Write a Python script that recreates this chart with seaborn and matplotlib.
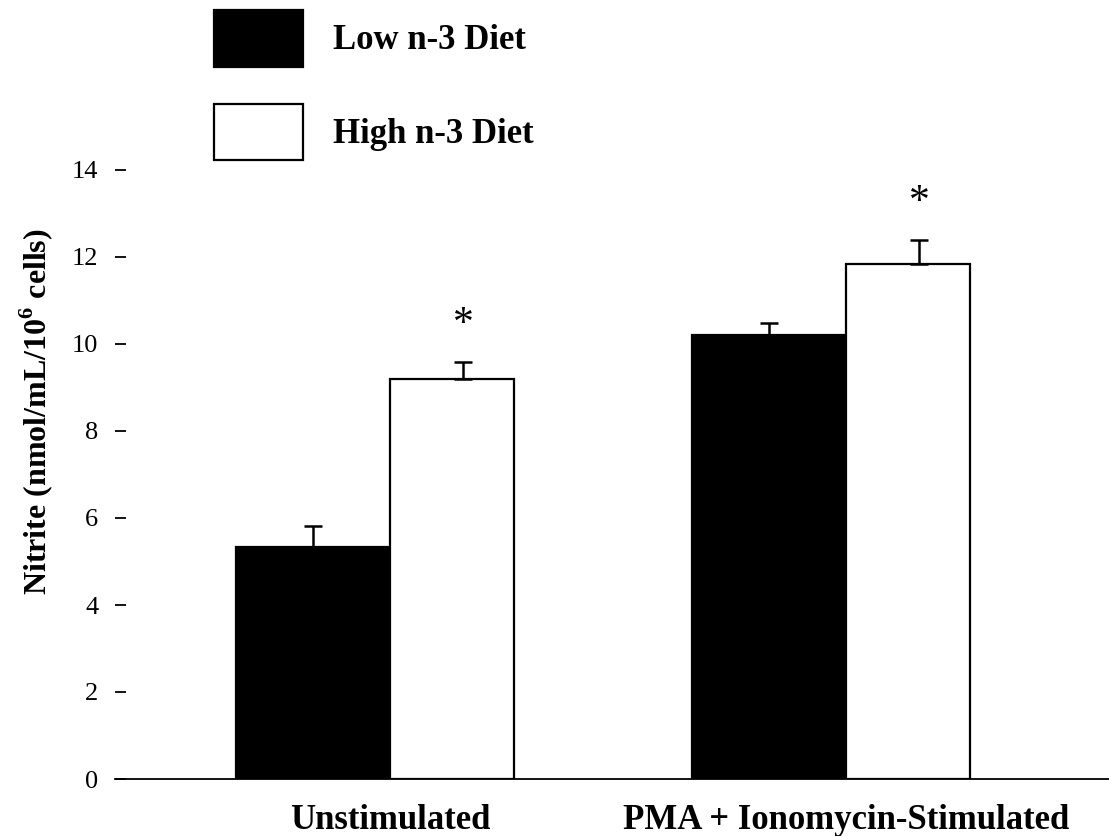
import matplotlib
matplotlib.use("Agg")
import matplotlib.pyplot as plt
import seaborn as sns
import pandas as pd
import numpy as np

# Nitrite production by diet group
conditions = ["Unstimulated", "PMA + Ionomycin-Stimulated"]
diets = ["Low n-3 Diet", "High n-3 Diet"]
low_means = [5.33, 10.21]
high_means = [9.19, 11.84]
low_errs = [0.49, 0.28]
high_errs = [0.39, 0.55]
significant = [True, True]  # high vs low diet, per condition

df = pd.DataFrame({
    "Condition": conditions * 2,
    "Diet": [diets[0]] * 2 + [diets[1]] * 2,
    "Nitrite": low_means + high_means,
})

sns.set_theme(style="white")
plt.rcParams["font.family"] = ["Liberation Serif", "DejaVu Serif"]
plt.rcParams["mathtext.fontset"] = "custom"
plt.rcParams["mathtext.bf"] = "Liberation Serif:bold"
plt.rcParams["mathtext.rm"] = "Liberation Serif"
for key in ["text.color", "axes.labelcolor", "xtick.color", "ytick.color"]:
    plt.rcParams[key] = "black"

fig = plt.figure(figsize=(11.09, 8.36), dpi=100)
ax = fig.add_axes([115 / 1109, 1 - 779 / 836, 1 - 115 / 1109, (779 - 170) / 836])

sns.barplot(
    data=df, x="Condition", y="Nitrite", hue="Diet",
    order=conditions, hue_order=diets,
    palette={diets[0]: "black", diets[1]: "white"},
    edgecolor="black", linewidth=1.6, width=0.6,
    errorbar=None, ax=ax,
)

# Each group: wider dark bar left of the category position, narrower open bar right of it
dark_width, open_width = 0.337, 0.272
bars = sorted([p for p in ax.patches if p.get_height() > 0], key=lambda p: p.get_x())
cats = []
for i, p in enumerate(bars):
    c = round(p.get_x() + p.get_width() / 2)
    if i % 2 == 0:
        p.set_x(c - dark_width)
        p.set_width(dark_width)
    else:
        p.set_x(c)
        p.set_width(open_width)
    cats.append(c)

err_x = [cats[0] - dark_width / 2, cats[1] + 0.16, cats[2] - dark_width / 2, cats[3] + 0.16]
means = [low_means[0], high_means[0], low_means[1], high_means[1]]
errs = [low_errs[0], high_errs[0], low_errs[1], high_errs[1]]
ax.errorbar(
    err_x, means, yerr=[np.zeros(len(errs)), errs],
    fmt="none", ecolor="black", elinewidth=1.8, capsize=6.5, capthick=1.8,
    clip_on=False, zorder=3,
)

for k, sig in enumerate(significant):
    if sig:
        j = 2 * k + 1
        ax.annotate("*", (err_x[j], means[j] + errs[j]), xytext=(0, 13),
                    textcoords="offset points", ha="center", va="bottom",
                    fontsize=30, annotation_clip=False)

ax.set_xlim(-0.603, -0.603 + 994 / 456)
ax.set_ylim(0, 14)
ax.set_yticks(np.arange(0, 15, 2))
ax.set_yticklabels([str(v) for v in range(0, 15, 2)], fontsize=19)
ax.tick_params(axis="y", direction="in", length=8, width=1.3, pad=12, left=True)
ax.tick_params(axis="x", length=0, pad=18)
for lab in ax.get_xticklabels():
    lab.set_fontsize(25)
    lab.set_fontweight("bold")
ax.set_xlabel("")
ax.set_ylabel(r"Nitrite (nmol/mL/10$^{\mathbf{6}}$ cells)", fontsize=23,
              fontweight="bold")
ax.yaxis.set_label_coords(-0.060, 0.604)

for s in ["top", "right", "left"]:
    ax.spines[s].set_visible(False)
ax.spines["bottom"].set_linewidth(1.3)
ax.spines["bottom"].set_color("black")

sns.move_legend(
    ax, "upper left", bbox_to_anchor=(214 / 1109, 1 - 10 / 836),
    bbox_transform=fig.transFigure, frameon=False, title=None,
    handlelength=2.56, handleheight=2.13, labelspacing=1.07,
    handletextpad=0.86, borderpad=0, borderaxespad=0,
    prop={"weight": "bold", "size": 25},
)

fig.savefig("out.png", dpi=100)
